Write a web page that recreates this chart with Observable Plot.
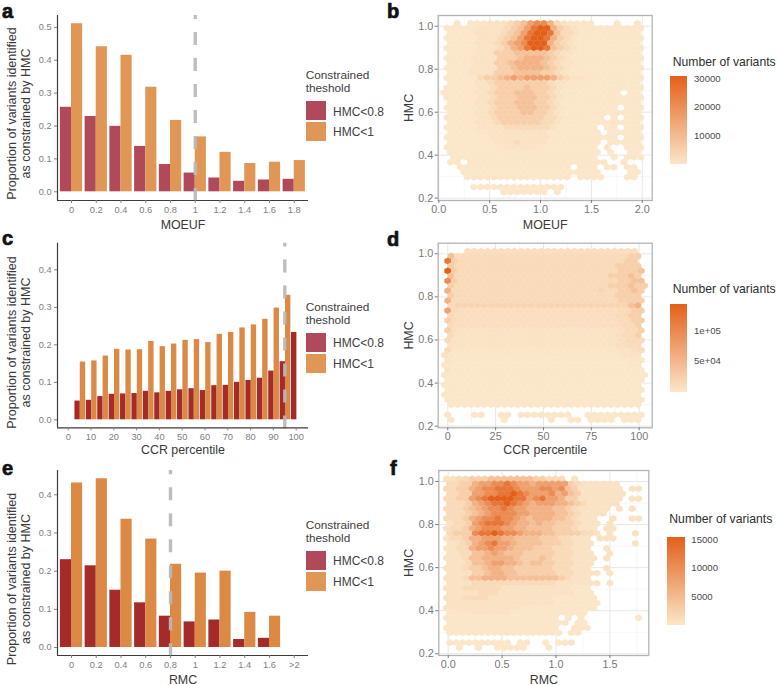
<!DOCTYPE html>
<html>
<head>
<meta charset="utf-8">
<script src="https://cdn.jsdelivr.net/npm/d3@7"></script>
<script src="https://cdn.jsdelivr.net/npm/@observablehq/plot@0.6"></script>
<style>
html,body{margin:0;padding:0;background:#fff}
#page{position:relative;width:777px;height:685px;overflow:hidden;font-family:"Liberation Sans",Arial,sans-serif}
#page svg{position:absolute;background:transparent}
#page svg g[aria-label="dot"]{filter:blur(.6px)}
.t{position:absolute;white-space:pre;line-height:1}
</style>
</head>
<body>
<div id="page"></div>
<script>
// ---------- bar panels ----------
const seriesNames = ["HMC<0.8", "HMC<1"];
const moeufBins = ["0","0.2","0.4","0.6","0.8","1","1.2","1.4","1.6","1.8"];
const moeufLow  = [.257,.229,.199,.138,.083,.057,.042,.032,.036,.038];
const moeufHigh = [.511,.441,.415,.318,.217,.167,.120,.086,.090,.095];

const ccrBins = [5,10,15,20,25,30,35,40,45,50,55,60,65,70,75,80,85,90,95,100];
const ccrLow  = [.050,.052,.062,.068,.069,.070,.076,.072,.076,.080,.083,.078,.091,.092,.100,.105,.111,.130,.155,.233];
const ccrHigh = [.154,.157,.170,.188,.186,.187,.209,.195,.202,.212,.214,.206,.228,.233,.245,.253,.268,.298,.332,null];
const ccrTicks = [0,10,20,30,40,50,60,70,80,90,100];

const rmcBins = ["0","0.2","0.4","0.6","0.8","1","1.2","1.4","1.6",">2"];
const rmcLow  = [.230,.214,.150,.117,.082,.067,.072,.021,.024,null];
const rmcHigh = [.431,.442,.336,.284,.218,.195,.200,.092,.082,null];

// ---------- hex panels: one string per hex row, top row first; each character is
// the read colour level of one hex (0 palest .. 9 darkest; z, a, b are the half
// levels 0.5, 1.5, 2.5), "." is an empty cell
const halfLevels = {z:.5, a:1.5, b:2.5};
const moeufHexRows = [
"..0.0001112346775210000...0..0",
"000001111234689953210000000000",
".00001111234689984221000000000",
"000001112346899853210000000000",
".00001112356799953210000000000",
"000001112356899843210000000000",
".00001113334444432110000000000",
"000011113334555432100000000000",
".00001113345555432110000000000",
"000011113345555432100000000000",
".00011113334444332100000000000",
"000002334565666653211000000000",
".00001123333333321100000000000",
"000001123333433321000000000000",
"000001123334443321000000000.00",
"000001123334443321000000000000",
".00001123334443321000000000000",
"00000112333444332100000000.000",
".00001123333443321000000000000",
"000001123333333221000000.0.000",
".00001112333333221000000000000",
"00000111122222221000000.00.000",
".00000011111111100000000.00000",
"00000001111111110000000000.000",
".00000001112111100000000.00000",
"00000000011111000000000.0..000",
".00000000000000000000000.0..00",
".0000000000000000000000..0.000",
".00.000000000000000000000..0..",
"..00000000000000000.000.00.00.",
"...000000000000000000000....00",
"...0000000000000000.0000...00.",
"",
"....00000000000000............",
".........0000000.0............"
];

const ccrHexRows = [
"...aaaaaaaaaaaaaaaaaaaaaaaaaa.",
".4a222222222222222222222222233",
"83222222222222222222222222233",
".32222222222222222222222223333",
"932222222222222222222222223334",
".42222222222222222222222233343",
"732222222222222222222222223344",
".322222222222222222222222333433",
"52222222222222222222222b223343",
".32222222222222222222222223333",
"522222222222222222222222223333",
".2bbbbbbbbbbbbbbbbbbbbbbbbbb45",
"62aaaaaaaaaaaaaaaaaaaaaaaa2233",
".2aaaaaaaaaaaaaaaaaaaaaaaa2233",
"32aaaaaaaaaaaaaaaaaaaaaaaa2233",
".2aaaaaaaaaaaaaaaaaaaaaaaaa223",
"3a111111111111111111111111a223",
".2111111111111111111111111a223",
"21111111111111111111111111a222",
".1111111111111111111111111aa22",
"2zzzzzzzzzzzzzzzzzzzzzzzzz11a2",
"1zzzzzzzzzzzzzzzzzzzzzzzzzz111",
"1000000000000000000000000000zz",
"0000000000000000000000000000zz",
"100000000000000000000000000000",
"0000000000000000000000000000000",
"000000000000000000000000000000",
"000000000000000000000000000000",
"000000000000000000000000000000",
"000000000000000000000000000000",
"000000000000000000000000000000",
".00000000000000000000000000000"
];
const ccrHexLowRows = [
"0...00..00.00000000..000000000",
".0.......0......0..00.0000.000"
];

const rmcHexRows = [
"1122333444444433222.1",
"223356677876656666632111111",
"2233567788876667767431111111.11",
"2233667788987666756431111111",
"2233678999988678665331111111.11",
"222356788987656665543211111",
"22234567787665555443211111.1.1",
"2223456777766555544321111",
"222356778776545554432111..1..11",
"122367888765545443332111.1",
"122356777665544443332111.11",
"233378898776555443333221.1...1",
"12235566655444433322111.111",
"11235678665444433322111......1",
"11225667665444333222111..1",
"11224456544433333222111..1",
"111244555554333432221111.1",
"11124456655434433222111",
"11123345544333333222111..1",
"111133455443333332221111.1",
"11124455554444444432111",
"111122222222222221111111.1",
"11122222211111111111000",
"11111222111111111111000",
"111222211111111110000000",
"111111111111111110000000",
"011111111111000000000000",
"0000111111000000000000",
"000000000000000000.0.0........0",
"0000000000000000000.00",
"000000000000000000..000",
"000000000000000000.00",
"",
"0000000000.00..0.000",
"..0..0..00000...0"
];

// hex grid layout of each panel, in data units
const moeufGrid = {x0:.0492, dx:.0656, oddShift:.0328, y0:1.014, dy:.0231};
const ccrGrid   = {x0:0, dx:3.484, oddShift:-1.742, y0:1.0124, dy:.023};
const ccrLowGrid= {x0:0, dx:3.484, oddShift:-1.742, y0:.2523, dy:.023};
const rmcGrid   = {x0:-.0155, dx:.0594, oddShift:.0297, y0:1.0124, dy:.02306};

const rampLow = "#fbe6c9", rampHigh = "#e3601a";
const fontFamily = '"Liberation Sans",Arial,sans-serif';
const page = document.getElementById("page");

function hexCells(rows, grid, max){
  const out = [];
  rows.forEach((row, r) => {
    [...row].forEach((ch, c) => {
      if (ch === "." ) return;
      const level = ch in halfLevels ? halfLevels[ch] : +ch;
      out.push({x: grid.x0 + c*grid.dx + (r%2 ? grid.oddShift : 0), y: grid.y0 - r*grid.dy, n: Math.pow(level/9,1.6)*max});
    });
  });
  return out;
}

// pointy-top hexagon stretched to the panel's aspect
const hexSymbol = {draw(ctx, size){
  const R = Math.sqrt(size/Math.PI);
  ctx.moveTo(0,-R); ctx.lineTo(R,-R/2); ctx.lineTo(R,R/2);
  ctx.lineTo(0,R); ctx.lineTo(-R,R/2); ctx.lineTo(-R,-R/2); ctx.closePath();
}};

function place(svg, left, top){
  svg.style.left = left+"px"; svg.style.top = top+"px";
  page.appendChild(svg);
}
function text(str, x, y, o={}){
  const d = document.createElement("div");
  d.className = "t"; d.textContent = str;
  d.style.left = x+"px"; d.style.top = y+"px";
  d.style.transform = o.transform || "translateY(-50%)";
  d.style.fontSize = (o.size||12)+"px";
  d.style.color = o.color||"#3a3a3a";
  if (o.weight) d.style.fontWeight = o.weight;
  if (o.lineHeight) d.style.lineHeight = o.lineHeight;
  if (o.stroke) d.style.webkitTextStroke = o.stroke;
  page.appendChild(d);
}

function barPanel({top, yDomain, yTicks, xDomain, xTicks, xFormat, rows, vline, xLabel, labelOffset, yDy, low, high, mT, mB}){
  const H = 230;
  const svg = Plot.plot({
    width:312, height:H, marginLeft:57, marginRight:4, marginTop:mT, marginBottom:mB,
    style:{fontFamily, background:"transparent", overflow:"visible"},
    x:{domain:xDomain, axis:null},
    y:{domain:yDomain, axis:null},
    color:{domain:seriesNames, range:[low, high]},
    marks:[
      Plot.rect(rows, {x1:"x1", x2:"x2", y1:()=>0, y2:"value", fill:"series", inset:0}),
      Plot.ruleX([vline], {y1:yDomain[0]-0.003, y2:yDomain[1], stroke:"#b9b9b9", strokeWidth:3.4, strokeDasharray:"13 13", strokeOpacity:.92}),
      Plot.ruleX([xDomain[0]], {stroke:"#3c3c3c", strokeWidth:1.2}),
      Plot.ruleY([yDomain[0]], {stroke:"#3c3c3c", strokeWidth:1.2}),
      Plot.axisY({ticks:yTicks, tickFormat:d3.format(".1f"), label:null, tickSize:3, tickPadding:3, fontSize:9.2, color:"#808080"}),
      Plot.axisX({ticks:xTicks, tickFormat:xFormat, label:null, tickSize:3, tickPadding:3, fontSize:9.3, color:"#808080"}),
      Plot.text([xLabel], {frameAnchor:"bottom", dy:labelOffset, fontSize:12.4, fill:"#3a3a3a"}),
      Plot.text(["Proportion of variants identified\nas constrained by HMC"], {frameAnchor:"left", textAnchor:"middle", rotate:-90, dx:-39.2, dy:yDy, fontSize:12.5, lineHeight:1.15, fill:"#3a3a3a"})
    ]
  });
  place(svg, 0, top);
}

function barRows(values, series, pos){
  return values.map((v,i)=> v==null ? null : ({x1:pos(i)[0], x2:pos(i)[1], value:v, series})).filter(Boolean);
}
const idxPos = k => i => k===0 ? [i-.45,i] : [i,i+.45];
const ccrPos = k => i => k===0 ? [ccrBins[i]+.3-2.35,ccrBins[i]+.3] : [ccrBins[i]+.3,ccrBins[i]+.3+2.35];

function hexPanel({top, left=400, mL, mR, mT, mB, xDomain, yDomain, xTicks, xMinor, xFormat, cells, max, xLabel, labelOffset, tickPad}){
  const yTicks = [.2,.4,.6,.8,1];
  const yMinor = [.3,.5,.7,.9];
  const svg = Plot.plot({
    width:262, height:230, marginLeft:mL, marginRight:mR, marginTop:mT, marginBottom:mB,
    style:{fontFamily, background:"transparent", overflow:"visible"},
    x:{domain:xDomain, axis:null},
    y:{domain:yDomain, axis:null},
    color:{type:"linear", domain:[0,max], range:[rampLow, rampHigh]},
    marks:[
      Plot.ruleX(xMinor, {stroke:"#f1f1f1", strokeWidth:.6}),
      Plot.ruleY(yMinor, {stroke:"#f1f1f1", strokeWidth:.6}),
      Plot.ruleX(xTicks, {stroke:"#e8e8e8", strokeWidth:1}),
      Plot.ruleY(yTicks, {stroke:"#e8e8e8", strokeWidth:1}),
      Plot.dot(cells, {x:"x", y:"y", fill:"n", stroke:"n", strokeWidth:.25, r:3.34, symbol:hexSymbol}),
      Plot.frame({stroke:"#b4b4b4", strokeWidth:1.3}),
      Plot.axisY({ticks:yTicks, tickFormat:d3.format(".1f"), label:null, tickSize:3, tickPadding:2, fontSize:10.8, color:"#777"}),
      Plot.axisX({ticks:xTicks, tickFormat:xFormat, label:null, tickSize:3, tickPadding:tickPad||2, fontSize:10.8, color:"#777"}),
      Plot.text([xLabel], {frameAnchor:"bottom", dy:labelOffset, fontSize:12.4, fill:"#3a3a3a"}),
      Plot.text(["HMC"], {frameAnchor:"left", textAnchor:"middle", rotate:-90, dx:-29.4, fontSize:12.4, fill:"#3a3a3a"})
    ]
  });
  place(svg, left, top);
}

function barLegend(x, t1, t2, s1, s2, l1, l2){
  text("Constrained", x, t1, {size:11.8, color:"#404040"});
  text("theshold", x, t2, {size:11.8, color:"#404040"});
  [[s1,"#b04a5a",l1,seriesNames[0]],[s2,"#e09655",l2,seriesNames[1]]].forEach(([y0,c,ly,lab])=>{
    const s = document.createElement("div");
    s.style.cssText = `position:absolute;left:${x+.6}px;top:${y0}px;width:19.4px;height:19px;background:${c}`;
    page.appendChild(s);
    text(lab, x+27.3, ly, {size:12, color:"#404040"});
  });
}
function hexLegend(x, y0, y1, titleX, titleY, labels){
  const s = document.createElement("div");
  s.style.cssText = `position:absolute;left:${x}px;top:${y0}px;width:17.4px;height:${y1-y0}px;background:linear-gradient(to top,${rampLow},${rampHigh});filter:blur(.3px)`;
  page.appendChild(s);
  text("Number of variants", titleX, titleY, {size:12.2, color:"#2e2e2e"});
  labels.forEach(([l,y])=>text(l, x+24, y, {size:9.6, color:"#4a4a4a"}));
}

// ---- a
barPanel({top:0, mT:15, mB:30, yDomain:[-.0264,.536], yTicks:[0,.1,.2,.3,.4,.5], xDomain:[-.566,9.576],
  xTicks:d3.range(moeufBins.length), xFormat:i=>moeufBins[i],
  rows:[...barRows(moeufLow,seriesNames[0],idxPos(0)),...barRows(moeufHigh,seriesNames[1],idxPos(1))],
  vline:5, xLabel:"MOEUF", labelOffset:28, yDy:5.5, low:"#b04a5a", high:"#e09655"});
// ---- c
barPanel({top:230, mT:12.7, mB:32.7, yDomain:[-.0213,.471], yTicks:[0,.1,.2,.3,.4], xDomain:[-4.7,105.4],
  xTicks:ccrTicks, xFormat:d=>d,
  rows:[...barRows(ccrLow,seriesNames[0],ccrPos(0)),...barRows(ccrHigh,seriesNames[1],ccrPos(1))],
  vline:95, xLabel:"CCR percentile", labelOffset:26, yDy:7, low:"#a52b2b", high:"#db8944"});
// ---- e
barPanel({top:455, mT:15, mB:30, yDomain:[-.021,.4637], yTicks:[0,.1,.2,.3,.4], xDomain:[-.566,9.576],
  xTicks:d3.range(rmcBins.length), xFormat:i=>rmcBins[i],
  rows:[...barRows(rmcLow,seriesNames[0],idxPos(0)),...barRows(rmcHigh,seriesNames[1],idxPos(1))],
  vline:4, xLabel:"RMC", labelOffset:28, yDy:16, low:"#a52b2b", high:"#db8944"});

// ---- b
hexPanel({top:0, mL:37.7, mR:10.3, mT:15, mB:30, xDomain:[-.006,2.098], yDomain:[.189,1.05],
  xTicks:[0,.5,1,1.5,2], xMinor:[.25,.75,1.25,1.75], xFormat:d3.format(".1f"),
  cells:hexCells(moeufHexRows, moeufGrid, 30000), max:30000, xLabel:"MOEUF", labelOffset:28});
// ---- d
hexPanel({top:230, mL:37.7, mR:10.3, mT:12.7, mB:32.7, xDomain:[-5,106.8], yDomain:[.1926,1.049],
  xTicks:[0,25,50,75,100], xMinor:[12.5,37.5,62.5,87.5], xFormat:d=>d,
  cells:[...hexCells(ccrHexRows, ccrGrid, 145000), ...hexCells(ccrHexLowRows, ccrLowGrid, 145000)], max:145000,
  xLabel:"CCR percentile", labelOffset:26});
// ---- f
hexPanel({top:455, mL:38.3, mR:13.7, mT:15, mB:30, xDomain:[-.0872,1.861], yDomain:[.192,1.051],
  xTicks:[0,.5,1,1.5], xMinor:[.25,.75,1.25,1.75], xFormat:d3.format(".1f"),
  cells:hexCells(rmcHexRows, rmcGrid, 16000), max:16000, xLabel:"RMC", labelOffset:28});

barLegend(305.7, 76, 89, 101, 121.7, 111.7, 131.7);
barLegend(305.7, 308, 321, 333.3, 354, 343.3, 363.7);
barLegend(305.7, 526, 538.7, 551, 571.7, 561, 581.7);

hexLegend(670, 76, 164, 672.7, 62, [["30000",78.7],["20000",107.3],["10000",135.7]]);
hexLegend(670, 304, 392, 672.7, 289.3, [["1e+05",331],["5e+04",361.3]]);
hexLegend(667.3, 536.7, 625, 669.3, 519, [["15000",539.7],["10000",568.3],["5000",597]]);

// panel letters, placed by baseline
[["a",2,18.3],["c",2,245],["e",2,475],["b",387,18.3],["d",387,246],["f",390,475]].forEach(([l,x,base])=>
  text(l, x, base-.72*20, {size:20, weight:"bold", color:"#111", lineHeight:.75, transform:"none", stroke:".7px #111"}));
</script>
</body>
</html>
